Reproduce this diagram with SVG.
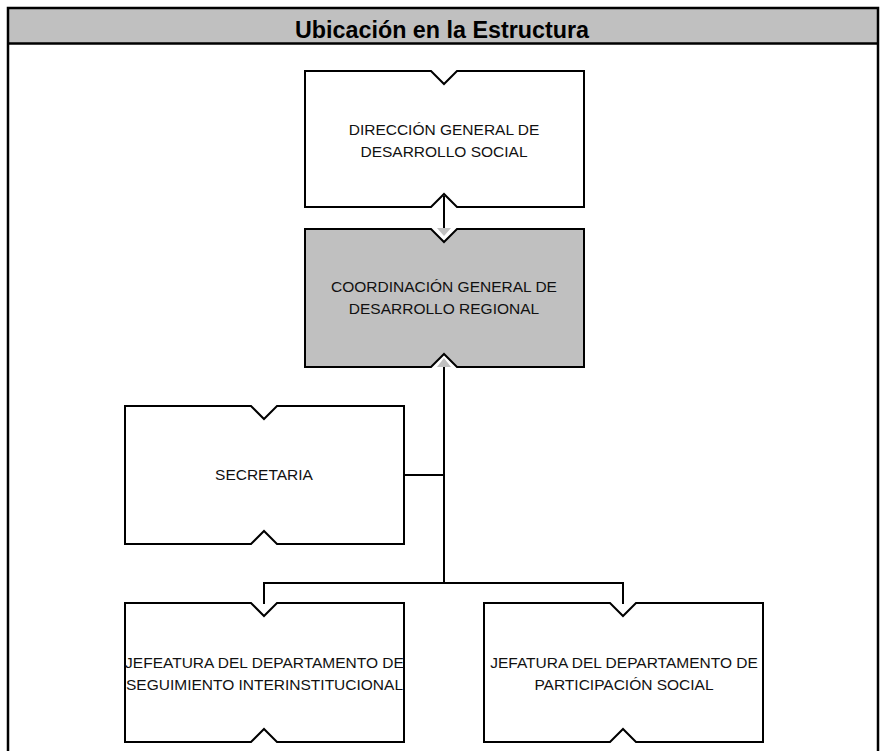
<svg xmlns="http://www.w3.org/2000/svg" width="883" height="751" viewBox="0 0 883 751">
<style>
.frame{fill:none;stroke:#000;stroke-width:2.5}
.box{fill:#fff;stroke:#000;stroke-width:2}
.box.main{fill:#c0c0c0}
.lbl{font-family:"Liberation Sans",Arial,sans-serif;font-size:15.5px;fill:#111;text-anchor:middle}
.title{font-family:"Liberation Sans",Arial,sans-serif;font-size:23px;font-weight:bold;fill:#000;text-anchor:middle}
.conn{fill:none;stroke:#000;stroke-width:2}
.ah{fill:#c0c0c0;stroke:none}
</style>
<rect x="0" y="0" width="883" height="751" fill="#fff"/>
<g id="header">
<rect x="8" y="8" width="870" height="35" fill="#c0c0c0"/>
<line x1="8" y1="43.5" x2="878" y2="43.5" stroke="#000" stroke-width="2.5"/>
<text class="title" x="442" y="38" textLength="294" lengthAdjust="spacingAndGlyphs">Ubicación en la Estructura</text>
</g>
<rect class="frame" x="8" y="8" width="870" height="760"/>
<g id="connectors">
<path class="conn" d="M444,196 V228"/>
<polygon class="ah" points="437,228 451,228 444,236"/>
<polygon class="ah" points="437,367 451,367 444,358"/>
<path class="conn" d="M444,367 V583"/>
<path class="conn" d="M404,475 H444"/>
<path class="conn" d="M264,604 V583 H623 V604"/>
</g>
<g id="n1">
<path class="box" d="M305,71 H431 L444,84 L457,71 H584 V207 H457 L444,194 L431,207 H305 Z"/>
<text class="lbl" x="444" y="135">DIRECCIÓN GENERAL DE</text>
<text class="lbl" x="444" y="157">DESARROLLO SOCIAL</text>
</g>
<g id="n2">
<path class="box main" d="M305,229 H431 L444,242 L457,229 H584 V367 H457 L444,354 L431,367 H305 Z"/>
<text class="lbl" x="444" y="292">COORDINACIÓN GENERAL DE</text>
<text class="lbl" x="444" y="314">DESARROLLO REGIONAL</text>
</g>
<g id="n3">
<path class="box" d="M125,406 H251 L264,419 L277,406 H404 V544 H277 L264,531 L251,544 H125 Z"/>
<text class="lbl" x="264" y="480">SECRETARIA</text>
</g>
<g id="n4">
<path class="box" d="M125,603 H251 L264,616 L277,603 H404 V742 H277 L264,729 L251,742 H125 Z"/>
<text class="lbl" x="264.5" y="668">JEFEATURA DEL DEPARTAMENTO DE</text>
<text class="lbl" x="264.5" y="690">SEGUIMIENTO INTERINSTITUCIONAL</text>
</g>
<g id="n5">
<path class="box" d="M484,603 H610 L623,616 L636,603 H763 V742 H636 L623,729 L610,742 H484 Z"/>
<text class="lbl" x="624" y="668">JEFATURA DEL DEPARTAMENTO DE</text>
<text class="lbl" x="624" y="690">PARTICIPACIÓN SOCIAL</text>
</g>
</svg>
